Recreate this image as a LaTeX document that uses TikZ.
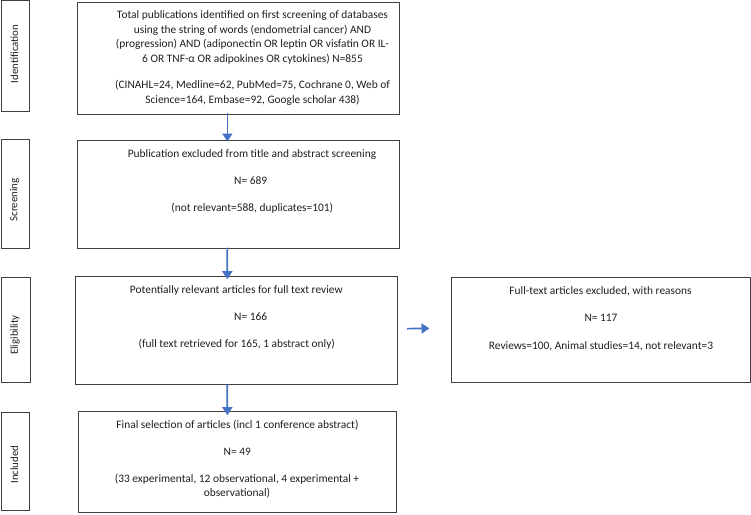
\documentclass[tikz,border=0pt]{standalone}
\usepackage{fontspec}
\setmainfont{Carlito}
\usetikzlibrary{arrows.meta}
\definecolor{boxline}{HTML}{404040}
\definecolor{arrblue}{HTML}{4472C4}
\definecolor{txtcol}{HTML}{1E1E1E}
\begin{document}
\begin{tikzpicture}[x=1pt,y=-1pt,
  box/.style={draw=boxline,line width=1pt,rectangle,inner sep=0pt},
  txt/.style={font=\fontsize{11.4}{13}\selectfont,text=txtcol,anchor=base,inner sep=0pt},
  lab/.style={font=\fontsize{10.9}{13}\selectfont,text=txtcol,rotate=90,anchor=center,inner sep=0pt},
  arr/.style={draw=arrblue,line width=1.7pt,-{Triangle[width=10pt,length=8pt]}}]
\useasboundingbox (0,0) rectangle (751,514);
% side label boxes
\node[box,minimum width=28.5pt,minimum height=110.5pt] (idbox) at (15.25,55.75) {};
\node[box,minimum width=28.5pt,minimum height=109pt] (scbox) at (15.25,193.5) {};
\node[box,minimum width=28.5pt,minimum height=105pt] (elbox) at (15.75,329.5) {};
\node[box,minimum width=28pt,minimum height=98pt] (inbox) at (15,461) {};
\node[lab] (idlab) at (14.5,54) {Identification};
\node[lab] (sclab) at (14.5,200) {Screening};
\node[lab] (ellab) at (15,335) {Eligibility};
\node[lab] (inlab) at (14.5,464.5) {Included};
% main boxes
\node[box,minimum width=321.3pt,minimum height=111.3pt] (top) at (238.35,58.35) {};
\node[box,minimum width=321.3pt,minimum height=108pt] (scr) at (238.35,194) {};
\node[box,minimum width=322.4pt,minimum height=107.3pt] (eli) at (236.5,330.35) {};
\node[box,minimum width=299pt,minimum height=105pt] (excl) at (600.5,330.2) {};
\node[box,minimum width=318.7pt,minimum height=101pt] (inc) at (237.35,462.2) {};
% top texts
\node[txt] (t1) at (252.5,18.9) {Total publications identified on first screening of databases};
\node[txt] (t2) at (252.5,33.2) {using the string of words (endometrial cancer) AND};
\node[txt] (t3) at (252.5,47.5) {(progression) AND (adiponectin OR leptin OR visfatin OR IL-};
\node[txt] (t4) at (252.5,62.2) {6 OR TNF-α OR adipokines OR cytokines) N=855};
\node[txt] (t5) at (252.5,88.9) {(CINAHL=24, Medline=62, PubMed=75, Cochrane 0, Web of};
\node[txt] (t6) at (252.5,103.2) {Science=164, Embase=92, Google scholar 438)};
% screening texts
\node[txt] (s1) at (252,157.2) {Publication excluded from title and abstract screening};
\node[txt] (s2) at (250.7,184.2) {N= 689};
\node[txt] (s3) at (252.3,211.2) {(not relevant=588, duplicates=101)};
% eligibility texts
\node[txt] (e1) at (236.3,293.2) {Potentially relevant articles for full text review};
\node[txt] (e2) at (250.7,320.2) {N= 166};
\node[txt] (e3) at (236.8,347.2) {(full text retrieved for 165, 1 abstract only)};
% excluded texts
\node[txt] (x1) at (600.5,294.9) {Full-text articles excluded, with reasons};
\node[txt] (x2) at (601,321.5) {N= 117};
\node[txt] (x3) at (601,349.2) {Reviews=100, Animal studies=14, not relevant=3};
% included texts
\node[txt] (i1) at (237.5,428.5) {Final selection of articles (incl 1 conference abstract)};
\node[txt] (i2) at (237.3,455.5) {N= 49};
\node[txt] (i3) at (237,482.5) {(33 experimental, 12 observational, 4 experimental +};
\node[txt] (i4) at (237,496.5) {observational)};
% arrows
\draw[arr] ([xshift=-11pt,yshift=2pt]top.south) -- ([xshift=-11pt,yshift=-2pt]scr.north);
\draw[arr] ([xshift=-11pt,yshift=1pt]scr.south) -- ([xshift=-9.2pt,yshift=-3pt]eli.north);
\draw[arr] ([xshift=-9.2pt,yshift=0pt]eli.south) -- ([xshift=-10pt,yshift=-4pt]inc.north);
\draw[arr] ([xshift=9pt,yshift=1.7pt]eli.east) -- ([xshift=-21pt,yshift=1.8pt]excl.west);
\end{tikzpicture}
\end{document}
